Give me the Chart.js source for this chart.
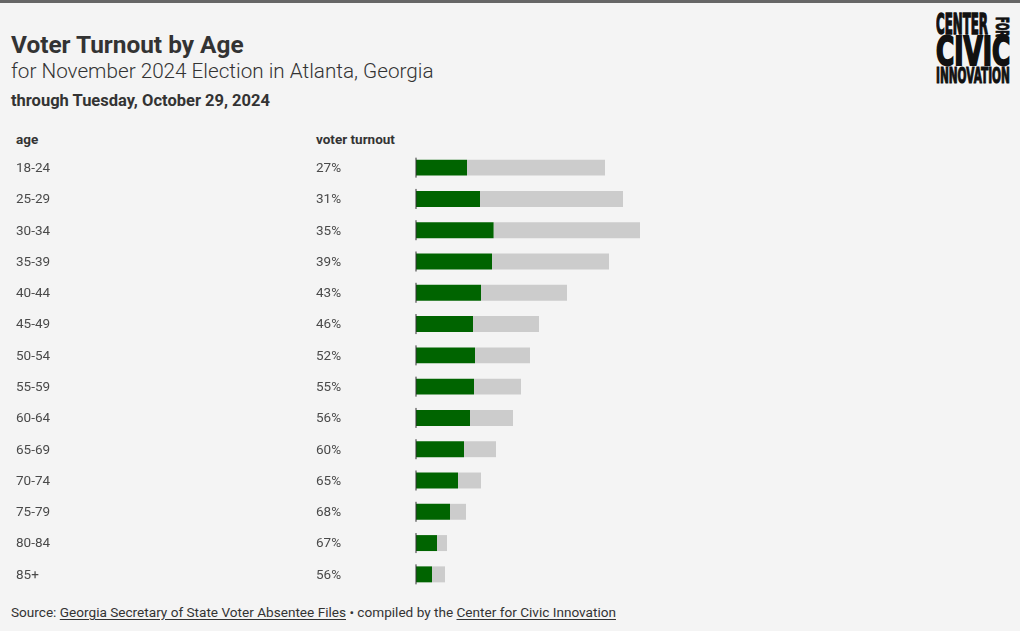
<!DOCTYPE html>
<html>
<head>
<meta charset="utf-8">
<script src="https://cdn.jsdelivr.net/npm/chart.js@4/dist/chart.umd.min.js"></script>
<style>
  html, body { margin: 0; padding: 0; }
  body {
    width: 1020px; height: 631px; overflow: hidden; position: relative;
    background: #f4f4f4; font-family: Roboto, "Noto Sans", sans-serif; color: #333;
  }
  #topbar { position: absolute; left: 0; top: 0; width: 1020px; height: 3px; background: #666; }
  .txt { position: absolute; white-space: nowrap; margin: 0; }
  #title { left: 11px; top: 33px; font-size: 24.4px; line-height: 24px; font-weight: 700; }
  #subtitle { left: 11px; top: 61px; font-size: 20.7px; line-height: 21px; font-weight: 300; }
  #date { left: 11px; top: 93px; font-size: 16.5px; line-height: 16px; font-weight: 700; }
  .head { top: 133px; font-size: 13.5px; line-height: 13px; font-weight: 700; }
  #source { left: 11px; top: 606px; font-size: 13.6px; line-height: 13px; color: #333; }
  #source u { text-underline-offset: 2px; }
  .logo { position: absolute; white-space: nowrap; font-family: "Liberation Sans Narrow", "DejaVu Sans Condensed", sans-serif;
          font-weight: 700; color: #111; transform-origin: 0 0; line-height: 1; -webkit-text-stroke: 2px #111; }
  #chartBox { position: absolute; left: 0; top: 152px; width: 660px; height: 438px; }
</style>
</head>
<body>
<div id="topbar"></div>
<div class="txt" id="title">Voter Turnout by Age</div>
<div class="txt" id="subtitle">for November 2024 Election in Atlanta, Georgia</div>
<div class="txt" id="date">through Tuesday, October 29, 2024</div>
<div class="txt head" style="left:16px">age</div>
<div class="txt head" style="left:316px">voter turnout</div>

<div class="logo" id="lg1" data-box="936,16,52,21">CENTER</div>
<div class="logo" id="lg2" data-box="936,40,74,28">CIVIC</div>
<div class="logo" id="lg3" data-box="936,70,74,15">INNOVATION</div>
<div class="logo" id="lg4" data-box="994,17,13,20" data-rot="1">FOR</div>

<div id="chartBox"><canvas id="chart"></canvas></div>

<div class="txt" id="source">Source: <u>Georgia Secretary of State Voter Absentee Files</u> &bull; compiled by the <u>Center for Civic Innovation</u></div>

<script>
// ===== Data =====
const ages = ['18-24', '25-29', '30-34', '35-39', '40-44', '45-49', '50-54',
              '55-59', '60-64', '65-69', '70-74', '75-79', '80-84', '85+'];
const turnoutLabels = ['27%', '31%', '35%', '39%', '43%', '46%', '52%',
                       '55%', '56%', '60%', '65%', '68%', '67%', '56%'];
const voted = [12750, 16000, 19400, 19000, 16250, 14250, 14750,
               14500, 13500, 12000, 10500, 8500, 5250, 4000];
const registered = [47250, 51750, 56000, 48250, 37750, 30750, 28500,
                    26250, 24250, 20000, 16250, 12500, 7750, 7250];
const notYet = registered.map((r, i) => r - voted[i]);

// ===== Logo fitting =====
document.querySelectorAll('.logo').forEach(el => {
    const [x, y, w, h] = el.dataset.box.split(',').map(Number);
    const rot = el.dataset.rot === '1';
    el.style.fontSize = '40px';
    const cap = 40 * 0.73;
    const tw = el.offsetWidth;
    el.style.left = x + 'px';
    if (!rot) {
        const sy = h / cap;
        el.style.top = (y - 40 * 0.2 * sy) + 'px';
        el.style.transform = `scale(${w / tw}, ${sy})`;
    } else {
        // rotated text reading top to bottom
        const sy = w / cap;
        el.style.left = (x + w + 40 * 0.2 * sy) + 'px';
        el.style.top = y + 'px';
        el.style.transform = `rotate(90deg) scale(${h / tw}, ${sy})`;
    }
});

// ===== Plugin: age + turnout columns, start marks =====
const rowText = {
    id: 'rowText',
    afterDraw(chart) {
        const ctx = chart.ctx;
        const meta = chart.getDatasetMeta(0);
        const left = chart.chartArea.left;
        ctx.save();
        ctx.font = '13.5px Roboto, sans-serif';
        ctx.textBaseline = 'middle';
        ctx.textAlign = 'left';
        meta.data.forEach((bar, i) => {
            ctx.fillStyle = '#4a4a4a';
            ctx.fillText(ages[i], 16, bar.y + 1);
            ctx.fillText(turnoutLabels[i], 316, bar.y + 1);
            ctx.fillStyle = '#333';
            ctx.fillRect(left - 0.5, bar.y - 10, 1, 20);
        });
        ctx.restore();
    }
};

new Chart(document.getElementById('chart'), {
    type: 'bar',
    data: {
        labels: ages,
        datasets: [
            { label: 'voted', data: voted, backgroundColor: '#006400' },
            { label: 'not yet voted', data: notYet, backgroundColor: '#cccccc' }
        ]
    },
    options: {
        indexAxis: 'y',
        responsive: true,
        maintainAspectRatio: false,
        animation: false,
        barPercentage: 0.51,
        categoryPercentage: 1,
        layout: { padding: { left: 416, right: 0, top: 0, bottom: 0 } },
        plugins: { legend: { display: false }, tooltip: { enabled: false } },
        scales: {
            x: { stacked: true, min: 0, max: 61000, display: false },
            y: { stacked: true, display: false }
        }
    },
    plugins: [rowText]
});
</script>
</body>
</html>
